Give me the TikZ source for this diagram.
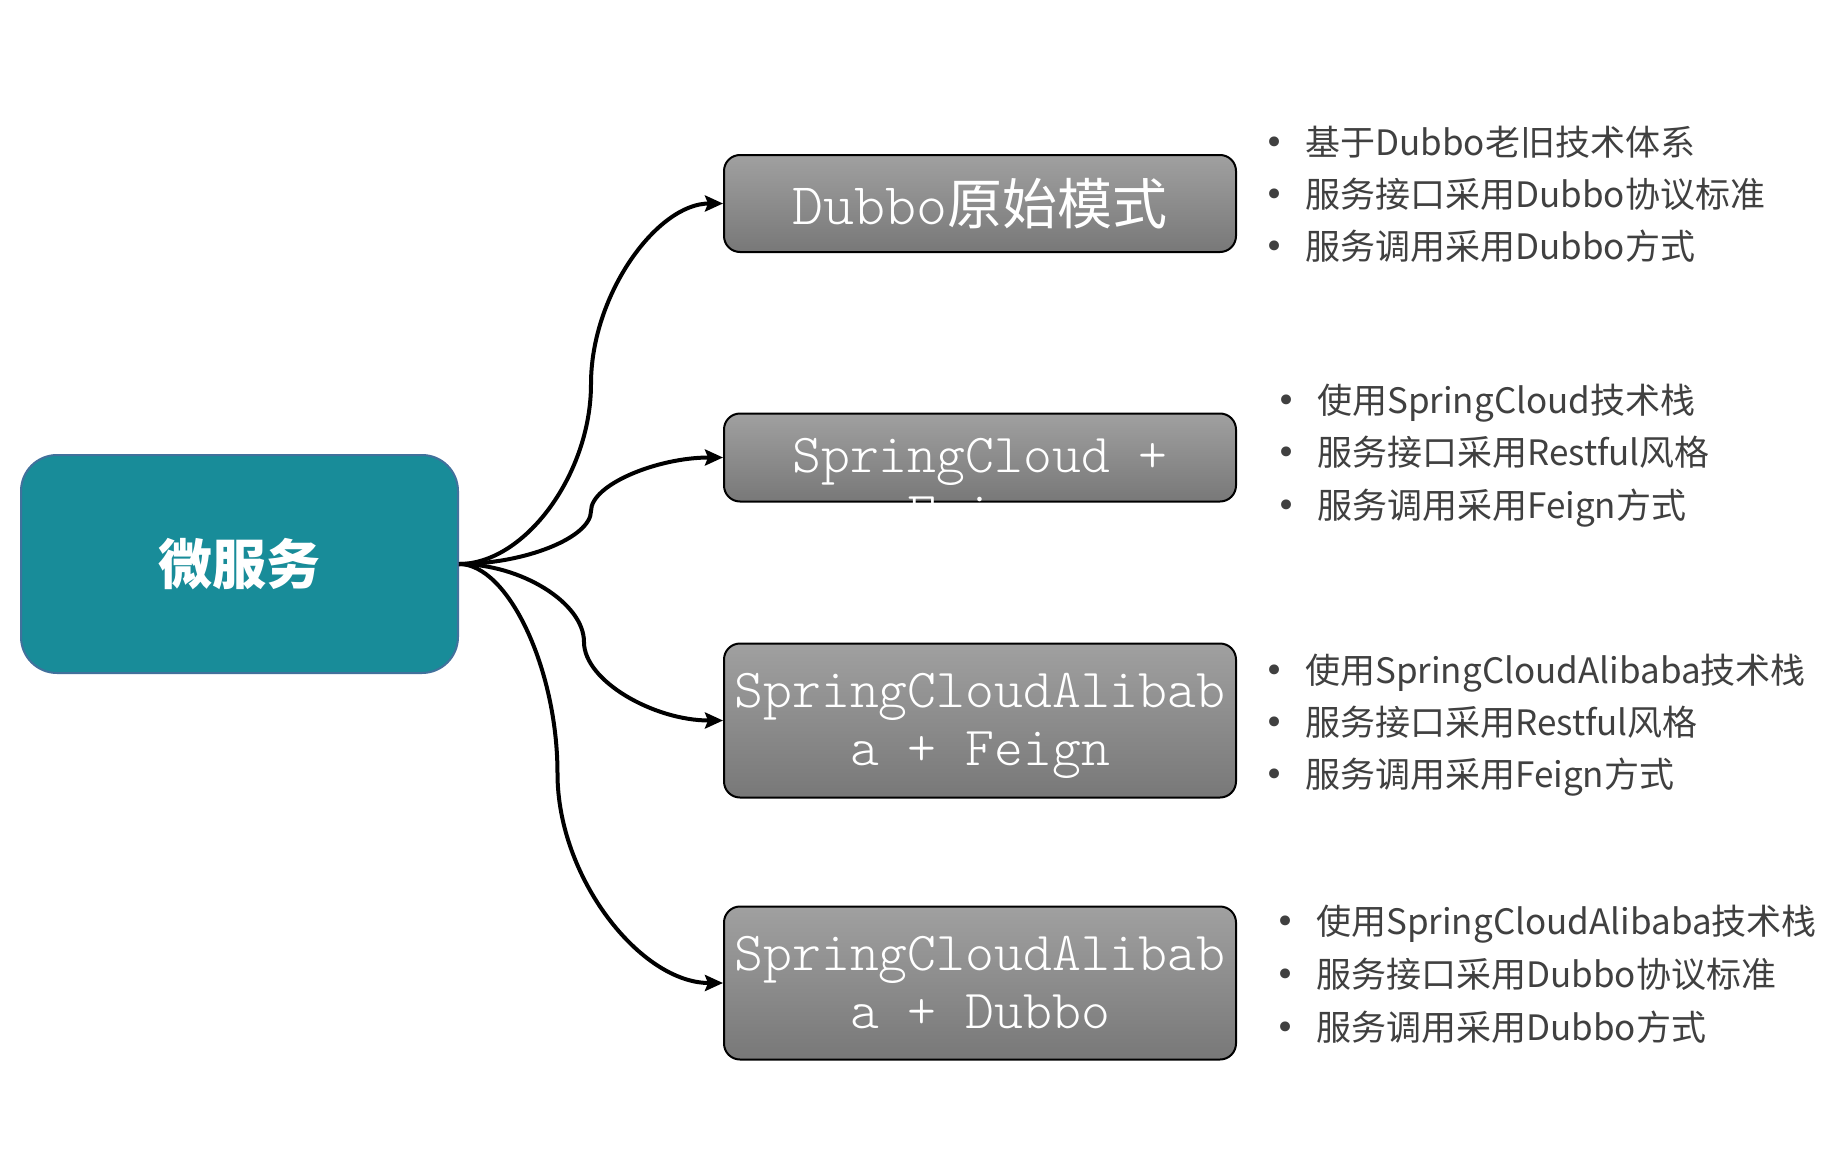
\documentclass[tikz,border=0pt]{standalone}
\usepackage{fontspec}
\setmainfont{Noto Sans CJK SC}
\setmonofont{Latin Modern Mono Light}
\newfontfamily\cjk{Noto Sans CJK SC}
\newfontfamily\dotfont{DejaVu Sans}
\usetikzlibrary{arrows.meta, calc, positioning}

\definecolor{microfill}{HTML}{188C99}
\definecolor{microline}{HTML}{41719C}
\definecolor{boxtop}{HTML}{A0A0A0}
\definecolor{boxbottom}{HTML}{787878}
\definecolor{pointgray}{HTML}{404040}

\newcommand{\bul}{\makebox[41pt][l]{\raisebox{1pt}{\dotfont\fontsize{34}{34}\selectfont •}}}
\newcommand{\lowstrut}{\rule{0pt}{46pt}}

\begin{document}
\begin{tikzpicture}[
            x=1pt, y=-1pt,
            >={Stealth[length=18pt, width=16pt, inset=3pt]},
            link/.style={->, line width=4pt},
            micro/.style={draw=microline, line width=2pt, fill=microfill, rounded corners=36pt, minimum width=437pt, minimum height=218pt, text=white, font=\cjk\bfseries\fontsize{54}{60}\selectfont},
            mode/.style={draw=black, line width=2pt, top color=boxtop, bottom color=boxbottom, rounded corners=16pt, minimum width=512pt, inner sep=0pt},
            boxtext/.style={text=white, align=center, inner sep=0pt, font=\ttfamily\fontsize{55}{58}\selectfont},
            point/.style={anchor=base west, inner sep=0pt, text=pointgray, font=\cjk\fontsize{35}{42}\selectfont}
        ]
        \useasboundingbox (0, 0) rectangle (1848, 1156);

        \node [micro] (micro) at (239.5, 564) {微服务};

        % Modes
        \node [mode, boxtext, minimum height=97pt] (dubbo) at (980, 203.5) {{\fontsize{59}{60}\selectfont Dubbo}{\cjk\fontsize{55}{58}\selectfont 原始模式}};
        \node [mode, minimum height=88pt] (sc) at (980, 457.5) {};
        \begin{scope}
            \clip [rounded corners=16pt] (sc.south west) rectangle (sc.north east);
            \node [boxtext] (scfeign) at ([yshift=-33pt]sc.center) {SpringCloud +\\Feign};
        \end{scope}
        \node [mode, boxtext, minimum height=154pt] (sca) at (980, 720.5) {\lowstrut SpringCloudAlibab\\a + Feign};
        \node [mode, boxtext, minimum height=153pt] (scd) at (980, 983) {SpringCloudAlibab\\a + Dubbo};

        % Links
        \draw[link] (micro.east) .. controls (525, 564) and (591, 474) .. (591, 384) .. controls (591, 294) and (657.5, 203.5) .. (dubbo.west);
        \draw[link] (micro.east) .. controls (525, 564) and (591, 537.5) .. (591, 511) .. controls (591, 484.5) and (657.5, 457.5) .. (sc.west);
        \draw[link] (micro.east) .. controls (521, 564) and (584, 603) .. (584, 642) .. controls (584, 681) and (654, 720.5) .. (sca.west);
        \draw[link] (micro.east) .. controls (508, 564) and (557.5, 668.75) .. (557.5, 773.5) .. controls (557.5, 878.25) and (641, 983) .. (scd.west);

        % Dubbo points
        \node [point] (dubbo1) at (1264, 155) {\bul 基于Dubbo老旧技术体系};
        \node [point] (dubbo2) at (1264, 207) {\bul 服务接口采用Dubbo协议标准};
        \node [point] (dubbo3) at (1264, 259) {\bul 服务调用采用Dubbo方式};

        % SpringCloud points
        \node [point] (sc1) at (1276, 413) {\bul 使用SpringCloud技术栈};
        \node [point] (sc2) at (1276, 465) {\bul 服务接口采用Restful风格};
        \node [point] (sc3) at (1276, 518) {\bul 服务调用采用Feign方式};

        % SpringCloudAlibaba + Feign points
        \node [point] (sca1) at (1264, 683.5) {\bul 使用SpringCloudAlibaba技术栈};
        \node [point] (sca2) at (1264, 735.5) {\bul 服务接口采用Restful风格};
        \node [point] (sca3) at (1264, 787.5) {\bul 服务调用采用Feign方式};

        % SpringCloudAlibaba + Dubbo points
        \node [point] (scd1) at (1275, 934.5) {\bul 使用SpringCloudAlibaba技术栈};
        \node [point] (scd2) at (1275, 987.5) {\bul 服务接口采用Dubbo协议标准};
        \node [point] (scd3) at (1275, 1040.5) {\bul 服务调用采用Dubbo方式};
    \end{tikzpicture}
\end{document}
